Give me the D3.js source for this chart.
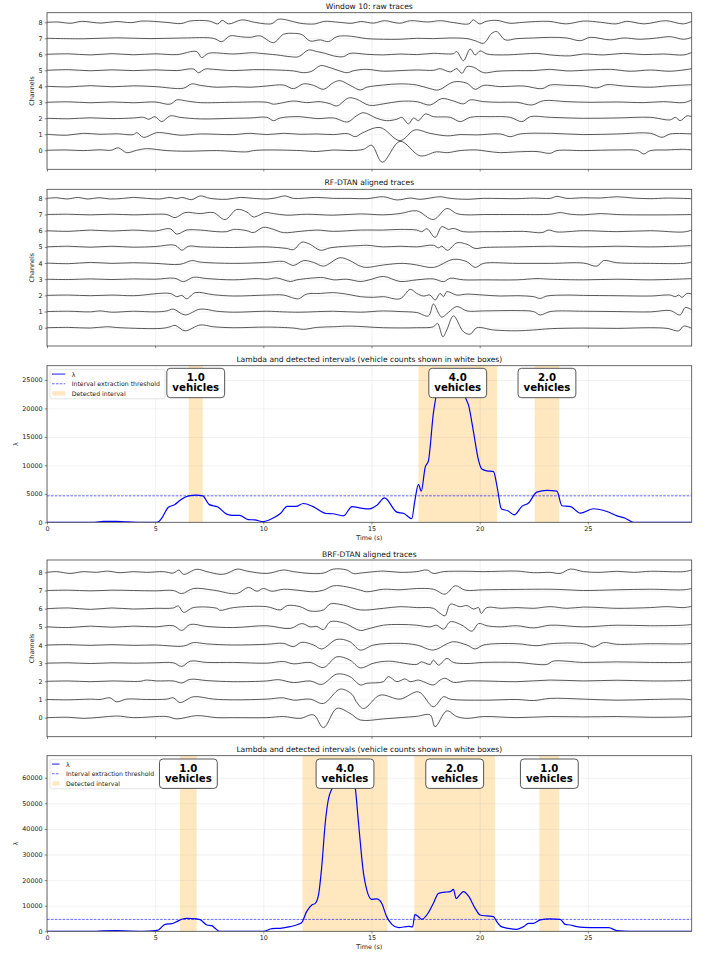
<!DOCTYPE html>
<html>
<head>
<meta charset="utf-8">
<script src="https://cdn.jsdelivr.net/npm/d3@7/dist/d3.min.js"></script>
<style>
  body { margin: 0; background: #fff; }
  svg { font-family: "DejaVu Sans", sans-serif; display: block; }
</style>
</head>
<body>
<div id="chart"></div>
<script>
// ---- data ----
const TIME_MAX = 29.8;
const X_TICKS = [0, 5, 10, 15, 20, 25];
const CHANNELS = [0, 1, 2, 3, 4, 5, 6, 7, 8];

// traces: [time (s), deviation from channel level]
const RAW_TRACES = [
  [[0,0],[0.91,0.02],[1.68,-0.02],[2.45,0.03],[2.95,0],[3.3,0.15],[3.68,-0.15],[4.15,0],[4.6,0.1],[5.54,-0.02],[6.46,-0.06],[7.85,-0.02],[9.24,-0.1],[9.54,-0.02],[10.16,0.02],[11.7,-0.02],[12.47,-0.08],[13.24,0.02],[14.01,-0.02],[14.63,0.06],[15.01,0.31],[15.5,-0.75],[16.32,0.56],[17.25,-0.35],[18.0,-0.1],[18.5,-0.15],[19.1,-0.02],[19.87,0.02],[20.33,-0.06],[20.95,-0.15],[21.72,-0.1],[22.65,-0.08],[23.26,-0.19],[23.57,-0.02],[24.8,-0.02],[26.34,0.02],[27.3,-0.02],[27.58,-0.23],[27.89,-0.02],[28.66,0.02],[29.43,0.06],[29.81,0.02]],
  [[0,0],[0.91,-0.06],[1.68,0.06],[2.45,0],[3.22,0.03],[3.99,-0.02],[4.15,0.1],[4.46,-0.19],[5.07,0.1],[5.54,0.06],[6.15,-0.06],[7.08,0.02],[8.62,-0.02],[9.39,0.06],[10.16,-0.02],[10.93,0.06],[11.7,0],[12.47,0.02],[13.24,-0.02],[13.9,0.04],[14.25,-0.15],[14.6,0.1],[15.4,0.42],[16.32,-0.4],[17.0,0.27],[17.7,0.06],[18.5,-0.1],[19.1,-0.02],[19.87,-0.04],[20.95,0.02],[21.41,-0.15],[21.87,0.02],[23.26,0.06],[24.8,-0.02],[26.34,0.02],[27.89,0.06],[28.43,-0.19],[28.81,0.02],[29.81,0.02]],
  [[0,0],[1.0,-0.03],[2.0,0.03],[3.0,-0.02],[4.0,0.02],[4.46,0.06],[4.7,-0.06],[4.99,0.1],[5.3,-0.21],[5.69,0.15],[6.15,0.06],[7.08,-0.04],[8.62,0],[9.39,0.02],[10.16,0.06],[10.47,-0.15],[10.78,0.02],[11.7,0.1],[12.47,-0.02],[13.24,0.02],[13.9,-0.23],[14.3,0.15],[14.63,0.35],[15.24,0],[15.7,-0.15],[16.17,-0.06],[16.4,0.06],[16.71,-0.35],[16.94,0.02],[17.17,-0.15],[17.48,0.27],[17.86,0.1],[18.64,0.06],[19.1,-0.21],[19.56,0.06],[20.48,0.1],[21.41,0.06],[21.95,-0.21],[22.34,0.1],[23.26,0.06],[24.8,0],[26.34,0.02],[27.89,0.06],[28.81,-0.1],[29.04,0.06],[29.27,-0.15],[29.58,0.15],[29.81,0.1]],
  [[0,0],[1.0,0.03],[2.0,-0.03],[3.0,0.02],[4.0,-0.03],[5.0,0.02],[5.69,-0.12],[6.0,0.15],[6.46,0.08],[7.08,-0.02],[8.62,0],[10.16,0],[10.47,-0.12],[10.78,-0.06],[11.4,0.08],[12.0,-0.02],[12.63,0.04],[13.1,-0.1],[13.4,-0.23],[13.94,0.27],[14.3,0.2],[14.9,-0.19],[15.55,-0.1],[16.32,0.06],[17.09,0.04],[17.71,-0.17],[18.25,0.23],[18.79,0.08],[19.25,-0.1],[19.56,0.15],[20.18,0.04],[20.95,0],[21.72,0],[22.41,-0.17],[22.95,0.1],[24.03,0.04],[25.1,0],[26.34,0.02],[27.58,-0.02],[28.5,0.04],[29.43,-0.02],[29.81,0.15]],
  [[0,0],[1.0,-0.04],[2.0,0.04],[3.0,-0.03],[4.0,0.03],[5.0,-0.02],[6.31,-0.12],[6.69,0.15],[7.08,0.06],[7.85,-0.06],[8.62,-0.02],[9.39,-0.06],[10.16,0.02],[10.93,0.08],[11.39,-0.15],[11.86,0.15],[12.32,0.06],[12.78,-0.19],[13.24,0.23],[13.55,0.35],[14.01,0.06],[14.48,-0.23],[14.78,-0.06],[15.55,0.08],[16.32,0.15],[17.09,0.08],[17.71,-0.15],[18.1,-0.23],[18.79,0.27],[19.41,0.19],[19.79,-0.19],[20.18,0.06],[20.95,-0.02],[22.03,0.02],[22.88,-0.15],[23.26,0.08],[24.03,0.06],[24.8,0.02],[25.42,-0.1],[25.88,0.1],[26.65,0.02],[27.89,-0.06],[28.66,0.02],[29.81,0.1]],
  [[0,0],[1.0,0.04],[2.0,-0.03],[3.0,0.03],[4.0,-0.02],[5.0,0.03],[6.0,-0.02],[6.77,0.08],[7.0,-0.15],[7.31,0.08],[7.69,0.06],[8.62,-0.02],[9.54,0.04],[10.62,0.02],[11.39,-0.04],[11.86,-0.15],[12.24,-0.06],[12.63,0.29],[12.93,0.23],[13.4,0.02],[13.86,-0.15],[14.2,-0.02],[14.78,0.06],[15.55,-0.06],[16.32,-0.02],[17.09,0.02],[17.86,0],[18.17,0.1],[18.64,-0.1],[18.94,0.1],[19.18,-0.19],[19.41,0.23],[19.72,0.19],[20.18,-0.15],[20.8,-0.06],[21.72,-0.02],[22.49,-0.02],[23.26,0.06],[24.03,-0.04],[25.1,0.02],[26.04,0.06],[26.96,-0.06],[27.89,0.02],[28.81,-0.06],[29.81,0.1]],
  [[0,0],[1.0,0.03],[2.0,-0.04],[3.0,0.04],[4.0,-0.03],[5.0,0.03],[6.0,-0.02],[6.92,0.17],[7.15,-0.21],[7.46,0.06],[8.62,0.02],[9.54,0.1],[9.85,0.06],[10.62,-0.04],[11.24,-0.15],[11.63,-0.15],[12.09,0.27],[12.47,0.17],[12.86,0.06],[13.24,-0.1],[13.7,-0.15],[14.01,0.06],[14.78,0],[15.55,-0.04],[16.32,0.02],[17.09,-0.02],[17.86,0.06],[18.55,0.02],[18.79,0.04],[18.94,0.17],[19.25,-0.4],[19.56,0.33],[19.79,-0.04],[20.02,0.21],[20.33,0.02],[21.1,-0.04],[22.03,0.02],[22.65,0.06],[23.26,-0.04],[24.19,-0.1],[24.8,0.02],[25.73,-0.04],[26.65,0.06],[27.58,-0.02],[28.5,0.02],[29.43,-0.04],[29.81,0.12]],
  [[0,0],[1.68,-0.03],[3.22,0.03],[4.76,-0.02],[6.31,0.02],[7.69,0],[8.08,-0.21],[8.46,0.15],[8.93,0.1],[9.39,0.06],[9.85,0.15],[10.47,-0.27],[10.93,0.25],[11.39,0.31],[11.78,0.23],[12.16,-0.17],[12.63,-0.1],[13.01,-0.21],[13.4,0.1],[13.86,0.15],[14.3,0.08],[14.78,-0.02],[15.55,-0.06],[16.32,-0.06],[17.09,0],[17.86,-0.02],[18.64,0.02],[19.41,-0.02],[19.79,-0.15],[20.18,-0.31],[20.56,0.31],[20.79,0.42],[21.18,-0.1],[21.72,-0.02],[22.49,0.02],[23.26,0.06],[24.03,0.02],[24.65,-0.15],[25.11,0.06],[26.04,-0.1],[26.65,0.02],[27.42,-0.06],[28.19,0.02],[28.81,0.1],[29.43,-0.06],[29.81,0.06]],
  [[0,0],[0.5,0.02],[1.1,-0.06],[1.6,0.06],[2.5,-0.05],[3.2,0.05],[3.9,-0.02],[4.4,0.08],[5.5,0],[6.2,-0.08],[6.6,0.08],[7.5,0.08],[7.9,-0.1],[8.1,0.12],[8.4,-0.1],[9.0,0.15],[9.6,0],[10.1,-0.1],[10.4,-0.08],[10.7,0.19],[11.1,0.14],[11.7,-0.06],[12.4,-0.1],[12.8,0.06],[13.5,0],[14.1,-0.06],[14.5,0.05],[15.1,-0.05],[15.6,0.1],[16.3,-0.06],[16.8,0.1],[17.6,0.02],[18.2,0.1],[18.8,-0.02],[19.5,-0.1],[19.7,0.15],[20.0,-0.1],[20.3,0.06],[20.8,0.12],[21.4,-0.06],[22.0,0],[23.2,0.06],[24.0,-0.1],[24.8,0.08],[25.6,0],[26.3,-0.1],[26.8,0.06],[27.6,-0.1],[28.6,0.1],[29.4,-0.1],[29.81,0.06]]
];

const RF_TRACES = [
  [[0,0],[1.0,0.02],[2.0,-0.02],[2.76,0.06],[3.38,0],[5.3,-0.04],[5.69,0.06],[5.92,0.15],[6.38,-0.19],[7.08,0.17],[7.69,0.06],[8.62,0],[10.16,0.04],[11.39,-0.02],[11.86,-0.1],[12.47,0.02],[13.24,0.06],[14.01,0.1],[15.55,0],[17.09,0],[17.86,0.06],[18.05,0.27],[18.3,-0.56],[18.48,-0.14],[18.79,0.73],[19.25,-0.25],[19.56,-0.4],[19.87,0],[20.64,-0.14],[21.72,-0.19],[22.49,-0.14],[23.26,-0.06],[24.8,-0.02],[26.34,-0.04],[27.89,0],[28.66,-0.04],[29.2,-0.19],[29.43,0.1],[29.81,-0.04]],
  [[0,0],[1.0,0.02],[2.0,-0.02],[2.45,0.04],[3.0,-0.04],[4.0,0.02],[5.0,-0.02],[5.54,0.04],[5.84,0.15],[6.38,-0.21],[7.08,0.15],[7.85,0.02],[8.62,-0.04],[10.16,0.02],[10.93,-0.02],[11.7,-0.04],[13.24,0.02],[14.48,-0.04],[15.55,0.04],[16.32,0],[17.09,-0.06],[17.63,-0.27],[17.86,0.47],[18.1,-0.1],[18.25,-0.35],[18.55,-0.06],[18.94,0.31],[19.41,0.04],[20.18,0.04],[21.72,0.06],[22.49,0],[22.8,-0.21],[23.26,0],[24.8,0.02],[26.34,0],[27.89,-0.02],[28.81,0.06],[29.27,-0.21],[29.5,0.25],[29.81,0.1]],
  [[0,0],[1.0,0.02],[2.0,-0.02],[3.0,0.02],[4.0,-0.02],[5.69,0.12],[6.0,-0.08],[6.23,0],[6.46,-0.21],[6.85,0.17],[7.7,0.04],[8.62,-0.04],[10.16,0.02],[10.93,0.02],[11.4,-0.17],[11.63,-0.21],[12.0,0.08],[12.63,0.12],[13.24,0.17],[14.01,0.04],[14.48,-0.08],[15.1,-0.12],[15.55,-0.08],[16.32,-0.21],[16.79,0.37],[17.09,0.12],[17.4,-0.04],[17.7,0.02],[17.94,-0.29],[18.17,0.12],[18.33,-0.08],[18.48,0.23],[18.94,0.02],[19.41,0.08],[20.18,0.02],[20.95,-0.04],[21.72,-0.02],[22.49,-0.08],[22.8,-0.19],[23.1,-0.04],[24.03,0.02],[24.8,0],[26.34,-0.02],[27.89,-0.04],[28.81,0.02],[29.04,-0.08],[29.2,0.02],[29.35,-0.12],[29.58,0.12],[29.81,0.08]],
  [[0,0],[1.0,-0.02],[2.0,0.02],[3.0,-0.02],[4.0,0.02],[5.0,0],[5.9,0.06],[6.31,-0.15],[6.77,0.12],[7.39,0.04],[8.62,-0.04],[9.7,0.04],[10.16,0],[10.62,0.08],[11.24,-0.14],[11.55,-0.04],[12.16,0.06],[12.78,0.1],[13.24,-0.04],[13.86,0],[14.48,-0.14],[14.9,-0.04],[15.55,0.17],[16.32,-0.14],[17.09,-0.04],[17.86,0.02],[18.33,-0.15],[18.64,0.06],[19.25,-0.04],[20.18,-0.04],[21.72,-0.04],[22.65,0.04],[23.26,0],[24.8,-0.04],[26.34,0],[27.89,-0.04],[29.81,0.04]],
  [[0,0],[1.0,-0.04],[2.0,0.04],[3.0,-0.02],[4.0,0.02],[5.0,-0.02],[6.15,-0.08],[6.69,0.15],[7.08,0.06],[8.62,-0.02],[10.16,0.04],[10.93,0.1],[11.39,-0.15],[11.86,0.15],[12.32,0.04],[12.78,-0.19],[13.55,0.33],[14.01,0.14],[14.48,-0.19],[14.78,-0.27],[15.55,-0.12],[16.48,-0.02],[17.09,-0.12],[17.86,-0.27],[18.79,0.23],[19.41,0.08],[19.79,-0.27],[20.18,-0.02],[21.72,-0.02],[23.26,-0.02],[24.8,0],[25.42,-0.19],[25.73,0.15],[26.34,0.02],[27.89,-0.02],[29.43,-0.02],[29.81,0.06]],
  [[0,0],[1.0,0.04],[2.0,-0.02],[3.0,0.04],[4.0,-0.02],[5.0,0.02],[5.92,0.1],[6.23,-0.21],[6.54,0.04],[7.08,0],[8.62,-0.04],[10.16,0],[11.08,-0.1],[11.4,-0.17],[11.78,0.29],[12.16,0.16],[12.63,-0.21],[13.09,-0.06],[13.86,0.04],[14.48,0.08],[14.78,0.1],[15.55,0],[16.32,0.04],[17.09,0],[17.86,0.1],[18.1,-0.06],[18.25,0.04],[18.51,-0.21],[18.95,0.25],[19.41,0.16],[19.79,-0.1],[20.18,-0.04],[21.72,0],[23.26,0.04],[24.8,0],[26.34,0.04],[27.89,0],[29.81,0.08]],
  [[0,0],[1.0,-0.04],[2.0,0.04],[3.0,-0.02],[4.0,0.04],[5.0,-0.02],[5.69,0.12],[6.0,-0.21],[6.46,0.04],[7.08,0.04],[7.85,-0.06],[8.31,-0.06],[8.62,0.08],[9.24,0],[9.54,-0.12],[10.0,0.21],[10.47,0.08],[10.93,-0.12],[11.7,-0.04],[12.47,0.04],[13.24,-0.04],[14.48,0.04],[15.55,0.04],[16.32,0.08],[17.09,0.04],[17.32,-0.06],[17.56,0.12],[17.94,-0.41],[18.25,0.25],[18.55,0.08],[18.79,0.14],[19.25,-0.06],[20.18,-0.06],[21.0,-0.06],[22.03,-0.04],[22.88,-0.12],[23.18,0.04],[23.57,-0.08],[24.8,0],[26.34,-0.06],[27.89,0],[29.43,-0.08],[29.81,0.04]],
  [[0,0],[1.0,0.02],[2.0,-0.02],[3.0,0.02],[4.0,-0.02],[5.0,0.02],[5.54,0],[5.92,-0.19],[6.38,0.12],[7.08,0.06],[7.69,0.12],[8.23,-0.31],[8.77,0.31],[9.23,0.16],[9.54,-0.15],[9.78,-0.06],[10.08,0.12],[10.47,0.06],[11.08,-0.04],[12.0,0.02],[13.24,-0.04],[14.48,0.04],[15.55,-0.02],[16.32,0.06],[17.09,0.23],[17.86,-0.31],[18.48,0.37],[18.94,0.06],[19.41,-0.02],[20.18,0],[21.72,0],[23.26,0.02],[23.72,0.12],[24.19,0.02],[24.8,-0.02],[25.57,0.06],[26.34,0],[27.11,-0.02],[28.66,-0.02],[29.81,0]],
  [[0,0],[0.45,0.04],[0.91,-0.04],[1.45,0.06],[1.84,-0.04],[2.45,0.04],[2.9,-0.04],[3.53,0],[4.0,0.06],[4.6,0],[5.2,-0.04],[5.69,0.06],[6.0,-0.02],[6.23,0.06],[6.69,-0.08],[7.08,0.15],[7.54,0],[8.31,-0.06],[8.93,0.06],[9.54,0],[10.16,-0.04],[10.54,0.02],[11.0,0.15],[11.39,0],[12.47,0.06],[13.24,0],[14.01,0],[14.78,-0.02],[15.55,0.1],[16.17,-0.1],[16.79,0.02],[17.25,-0.06],[18.17,0.1],[18.64,0],[19.41,-0.06],[20.18,0],[21.72,-0.02],[22.49,0.02],[23.26,0],[23.57,0.12],[24.03,0],[24.8,0.04],[25.57,0.02],[26.34,0.1],[27.11,0.02],[27.89,-0.02],[28.66,0.02],[29.81,-0.02]]
];

const BRF_TRACES = [
  [[0,0],[1.0,0.02],[1.68,-0.04],[2.45,0.02],[3.22,0.09],[3.99,0],[5.54,0.06],[6.0,-0.07],[6.92,0.11],[7.85,0],[8.62,0],[10.16,0],[10.93,0.06],[11.7,-0.04],[12.32,0.15],[12.78,-0.55],[13.4,0.51],[14.0,0.24],[14.48,-0.13],[15.55,-0.07],[16.32,0],[17.09,0.07],[17.71,0.15],[17.94,-0.5],[18.48,0.37],[18.94,0.06],[19.41,-0.04],[20.18,0.06],[21.72,0],[23.26,0.06],[24.8,0.04],[26.34,0.06],[27.89,0.02],[29.43,0.04],[29.81,0.07]],
  [[0,0],[1.0,-0.02],[2.0,0.02],[2.45,0],[2.91,0.09],[3.22,-0.13],[3.68,0.02],[4.6,0],[5.54,0.02],[5.84,0.09],[6.15,-0.17],[6.77,0.15],[7.7,0.02],[8.62,-0.02],[10.16,0.02],[10.93,0.09],[11.39,-0.04],[12.16,0.02],[12.78,-0.22],[13.55,0.57],[14.1,0.28],[14.3,-0.13],[14.63,-0.5],[15.4,0.24],[16.32,0.02],[17.17,0.42],[17.86,-0.4],[18.33,0.15],[18.64,0.02],[20.18,-0.04],[21.72,0],[22.49,-0.06],[23.26,0.06],[24.8,0.02],[26.34,-0.04],[27.89,0],[29.43,0.02],[29.81,-0.02]],
  [[0,0],[1.0,0.02],[2.0,-0.02],[3.0,0.02],[4.3,0],[4.6,0.07],[5.07,0.02],[5.84,0.02],[6.23,-0.09],[6.62,0.11],[7.39,0.04],[8.62,-0.02],[10.16,0.02],[10.7,0.09],[11.4,-0.07],[12.16,0.02],[12.7,-0.17],[13.4,0.4],[14.0,0.26],[14.48,-0.2],[14.78,-0.11],[15.55,-0.02],[15.78,0.26],[16.17,-0.02],[16.55,0.13],[16.79,-0.02],[17.17,0.07],[17.4,-0.02],[17.86,-0.2],[18.17,0.07],[18.4,0.17],[18.79,-0.06],[19.41,0.02],[20.18,0.02],[21.72,-0.02],[23.26,0.07],[24.8,0.02],[26.34,0.06],[27.89,0.02],[29.43,0.04],[29.81,0.07]],
  [[0,0],[1.0,0.02],[2.0,-0.02],[3.0,0.02],[4.0,0],[5.0,0.02],[5.84,0.02],[6.23,-0.18],[6.62,0.11],[7.39,0.04],[8.62,0.04],[10.16,0],[10.93,0.09],[11.4,-0.04],[12.16,0.04],[12.78,-0.24],[13.4,0.35],[14.0,0.17],[14.48,-0.26],[15.1,0],[15.8,0.11],[17.09,-0.07],[17.3,0.07],[17.71,-0.07],[17.86,0.17],[18.1,-0.11],[18.48,0.26],[18.79,0.04],[19.41,-0.02],[20.18,0.04],[21.72,0.04],[23.1,-0.07],[23.4,0.11],[24.8,0.04],[26.34,0.07],[27.89,0.04],[29.43,0.04],[29.81,0.07]],
  [[0,0],[1.0,0.02],[2.0,-0.02],[3.0,0.02],[4.0,-0.02],[5.0,0],[6.31,-0.06],[6.77,0.13],[7.39,0.06],[8.62,0],[10.16,0.04],[10.93,0.09],[11.39,-0.09],[11.78,0.15],[12.32,0],[12.7,-0.22],[13.4,0.31],[14.0,0.18],[14.48,-0.28],[15.1,0],[16.32,0.09],[17.09,0],[17.86,-0.28],[18.48,0.06],[18.79,0.18],[19.41,0],[19.79,-0.22],[20.18,0],[21.72,0.07],[22.65,-0.04],[23.26,0.07],[24.8,0.07],[25.26,-0.11],[25.73,0.13],[26.34,0.04],[27.89,0.07],[29.43,0.06],[29.81,0.09]],
  [[0,0],[1.0,-0.04],[2.0,0.04],[3.0,-0.02],[4.0,0.04],[5.0,0],[5.84,0.06],[6.23,-0.2],[6.62,0.13],[7.39,0.02],[8.62,-0.04],[10.16,0.06],[11.24,-0.09],[11.78,0.18],[12.16,0],[12.47,0.02],[12.78,-0.15],[13.09,0.28],[13.7,0.22],[14.48,-0.2],[14.78,-0.13],[15.55,0.09],[16.32,0.13],[17.09,0.09],[17.71,0],[18.0,0.09],[18.33,-0.13],[18.64,0.28],[19.18,0.09],[19.64,-0.24],[19.95,0.18],[20.33,0.06],[20.95,0],[21.72,0.06],[22.49,-0.06],[23.26,0.09],[24.8,0],[26.34,0.09],[27.89,0.06],[29.43,0.09],[29.81,0.13]],
  [[0,0],[1.0,0.04],[2.0,-0.04],[3.0,0.04],[4.0,-0.02],[5.0,0.02],[5.84,0.04],[6.07,0.15],[6.31,-0.2],[6.77,0.06],[7.85,0.02],[8.0,-0.09],[8.62,0.06],[10.16,0.11],[10.78,-0.07],[11.1,0.17],[11.7,0.11],[12.16,-0.13],[12.78,-0.07],[13.09,0.26],[13.7,0.2],[14.48,-0.07],[15.55,0.02],[16.32,0.11],[17.09,0.06],[17.86,0.02],[18.17,-0.26],[18.4,-0.39],[18.64,0.24],[19.1,0.11],[19.41,0.17],[19.72,-0.02],[19.95,0.06],[20.07,-0.26],[20.33,0.06],[21.0,0.02],[21.72,0.06],[22.49,0.02],[23.26,0.11],[24.03,0.02],[24.8,0.09],[25.57,0.06],[26.34,0.02],[27.89,0.06],[28.66,0.11],[29.43,0.06],[29.81,0.13]],
  [[0,0],[1.0,0.02],[2.0,-0.02],[3.0,0.02],[4.0,0],[5.0,-0.02],[5.84,0],[6.23,-0.17],[6.77,0.11],[7.69,0.02],[8.77,-0.17],[9.31,0.17],[9.7,-0.04],[10.0,0.11],[10.39,-0.04],[10.93,0.07],[11.7,0],[12.32,-0.07],[12.78,0.02],[13.24,0.26],[13.86,0.2],[14.48,0.02],[14.78,-0.07],[15.55,0.07],[16.32,0.04],[17.09,0.11],[17.86,0.07],[18.4,-0.2],[18.87,0.26],[19.33,0.02],[20.18,0.04],[21.72,0.06],[23.26,0.07],[24.03,0.04],[24.8,0],[26.34,0.04],[27.89,0.07],[29.43,0.04],[29.81,0.11]],
  [[0,0],[0.45,0.04],[1.06,-0.06],[1.68,0.04],[2.3,0],[2.76,0.07],[3.38,-0.02],[3.99,0.04],[4.6,0],[5.38,0.04],[5.84,-0.04],[6.1,0.13],[6.31,-0.11],[6.92,0.17],[7.39,0.04],[8.0,-0.11],[8.31,-0.06],[8.79,0.18],[9.24,0.07],[10.16,-0.06],[10.93,0.13],[11.39,0.04],[12.16,-0.06],[12.78,-0.04],[13.24,0.18],[13.86,0.13],[14.17,-0.07],[14.48,-0.04],[15.55,0.07],[16.32,0],[17.09,0.04],[17.56,0.13],[17.86,-0.06],[18.33,0.04],[19.41,0.06],[20.18,0.04],[21.72,0.07],[22.49,-0.02],[23.26,0],[23.72,-0.06],[24.19,0.18],[24.8,0.04],[25.57,0],[26.34,0.06],[27.11,0],[27.89,0.06],[29.43,0.04],[29.81,0.13]]
];

// lambda: [time (s), value]
const THRESHOLD = 4650;
const RF_LAMBDA = [[0,0],[2.2,0],[2.6,150],[3.2,180],[3.6,100],[4.3,0],[5.0,0],[5.15,100],[5.3,700],[5.6,2600],[5.9,3100],[6.2,4000],[6.55,4640],[6.9,4760],[7.2,4640],[7.5,3100],[7.9,2700],[8.3,1430],[8.6,1200],[8.9,1200],[9.3,480],[9.6,420],[10.0,120],[10.5,830],[10.8,1600],[11.1,2800],[11.5,2800],[11.85,3300],[12.3,2750],[12.9,1550],[13.2,1500],[13.7,1130],[14.1,2740],[14.5,2500],[14.9,2350],[15.25,2975],[15.6,4280],[16.17,1785],[16.5,1550],[16.86,650],[17.0,3700],[17.17,6660],[17.3,5470],[17.48,9640],[17.63,10800],[17.86,19160],[18.1,24000],[18.4,26000],[18.9,26500],[19.2,24500],[19.33,22130],[19.5,20350],[19.7,16180],[19.95,10830],[20.1,9340],[20.33,9040],[20.64,8900],[20.8,6370],[21.0,2380],[21.3,2020],[21.6,1310],[21.95,2800],[22.26,3390],[22.64,5300],[23.1,5590],[23.57,5470],[23.8,2900],[24.2,2750],[24.65,1600],[25.26,2380],[25.88,1900],[26.35,1130],[26.73,710],[27.1,0],[29.8,0]];
const RF_INTERVALS = [[6.55, 7.2], [17.17, 20.8], [22.54, 23.68]];
const RF_COUNTS = [1.0, 4.0, 2.0];
const RF_Y_TICKS = [0, 5000, 10000, 15000, 20000, 25000];

const BRF_LAMBDA = [[0,0],[2.2,0],[2.6,200],[3.2,260],[3.8,100],[4.46,0],[5.0,260],[5.15,520],[5.46,2730],[5.77,3000],[6.0,3780],[6.23,4690],[6.46,5080],[6.92,4820],[7.08,4560],[7.39,2470],[7.62,2210],[7.77,1170],[7.97,0],[10.0,0],[10.4,1040],[10.78,1170],[11.24,1820],[11.62,2730],[11.78,3500],[12.0,7680],[12.24,10300],[12.4,10900],[12.55,14200],[12.7,25260],[12.86,42190],[13.0,51300],[13.17,55700],[13.5,61000],[13.9,62500],[14.1,60000],[14.24,56500],[14.4,42190],[14.63,22650],[14.78,16150],[15.0,12500],[15.24,12630],[15.47,10940],[15.7,5730],[15.94,2730],[16.25,1430],[16.71,1950],[16.9,1690],[17.0,6510],[17.17,5730],[17.33,4690],[17.63,7290],[17.86,10940],[18.1,14840],[18.48,15360],[18.64,15500],[18.79,16400],[18.91,12760],[19.07,14190],[19.25,15490],[19.48,13800],[19.79,8980],[20.02,6380],[20.33,5990],[20.64,5730],[20.79,3780],[21.0,1820],[21.33,1170],[21.72,780],[22.03,1820],[22.26,3120],[22.49,3120],[22.8,4430],[23.26,4820],[23.72,4690],[23.95,2730],[24.19,2470],[24.5,1820],[24.8,1560],[25.42,1430],[25.96,1430],[26.34,260],[26.96,0],[29.8,0]];
const BRF_INTERVALS = [[6.15, 6.92], [11.81, 15.74], [16.98, 20.71], [22.76, 23.68]];
const BRF_COUNTS = [1.0, 4.0, 2.0, 1.0];
const BRF_Y_TICKS = [0, 10000, 20000, 30000, 40000, 50000, 60000];

const LEGEND_LABELS = ['λ', 'Interval extraction threshold', 'Detected interval'];

// ---- layout ----
const W = 710, H = 956;
const LEFT = 47, RIGHT = 691.7;
const FONT = '"DejaVu Sans", sans-serif';
const INK = '#222';

const panels = [
  { kind: 'trace', top: 12.7, bottom: 169.3, yDomain: [-1.19, 8.6], titleY: 6,
    title: 'Window 10: raw traces', traces: RAW_TRACES },
  { kind: 'trace', top: 189.3, bottom: 346, yDomain: [-1.13, 8.56], titleY: 182.7,
    title: 'RF-DTAN aligned traces', traces: RF_TRACES },
  { kind: 'lambda', top: 365.7, bottom: 522.3, yDomain: [0, 27500], titleY: 359,
    title: 'Lambda and detected intervals (vehicle counts shown in white boxes)',
    lambda: RF_LAMBDA, intervals: RF_INTERVALS, counts: RF_COUNTS, yTicks: RF_Y_TICKS,
    boxGap: 2.6, legendTextDx: 21.7, legendW: 115 },
  { kind: 'trace', top: 560, bottom: 736.7, yDomain: [-1.05, 8.68], titleY: 554.3,
    title: 'BRF-DTAN aligned traces', traces: BRF_TRACES },
  { kind: 'lambda', top: 755.7, bottom: 931.3, yDomain: [0, 68600], titleY: 749,
    title: 'Lambda and detected intervals (vehicle counts shown in white boxes)',
    lambda: BRF_LAMBDA, intervals: BRF_INTERVALS, counts: BRF_COUNTS, yTicks: BRF_Y_TICKS,
    boxGap: 3.3, legendTextDx: 16, legendW: 110 }
];

const svg = d3.select('#chart').append('svg')
  .attr('width', W)
  .attr('height', H)
  .attr('font-family', FONT);

const x = d3.scaleLinear().domain([0, TIME_MAX]).range([LEFT, RIGHT]);

function styleAxis(sel) {
  sel.attr('font-family', FONT).attr('font-size', 6.4);
  sel.select('.domain').remove();
  sel.selectAll('line').attr('stroke', '#333').attr('stroke-width', 0.6);
  sel.selectAll('text').attr('fill', INK);
}

function styleGrid(sel) {
  sel.select('.domain').remove();
  sel.selectAll('text').remove();
  sel.selectAll('line').attr('stroke', '#b0b0b0').attr('stroke-opacity', 0.3).attr('stroke-width', 0.6);
}

panels.forEach((p, i) => {
  const y = d3.scaleLinear().domain(p.yDomain).range([p.bottom, p.top]);
  const h = p.bottom - p.top;
  const g = svg.append('g').attr('class', 'panel');
  const yTicks = p.kind === 'trace' ? CHANNELS : p.yTicks;

  g.append('clipPath').attr('id', `clip-${i}`)
    .append('rect')
    .attr('x', LEFT).attr('y', p.top)
    .attr('width', RIGHT - LEFT).attr('height', h);

  const plot = g.append('g').attr('clip-path', `url(#clip-${i})`);

  // detected intervals go under the grid
  if (p.kind === 'lambda') {
    plot.selectAll('rect.span').data(p.intervals).join('rect')
      .attr('class', 'span')
      .attr('x', d => x(d[0]))
      .attr('width', d => x(d[1]) - x(d[0]))
      .attr('y', p.top)
      .attr('height', h)
      .attr('fill', '#ffa500')
      .attr('fill-opacity', 0.25);
  }

  // grid
  plot.append('g')
    .attr('transform', `translate(0,${p.bottom})`)
    .call(d3.axisBottom(x).tickValues(X_TICKS).tickSize(-h))
    .call(styleGrid);
  plot.append('g')
    .attr('transform', `translate(${LEFT},0)`)
    .call(d3.axisLeft(y).tickValues(yTicks).tickSize(-(RIGHT - LEFT)))
    .call(styleGrid);

  if (p.kind === 'trace') {
    const line = d3.line()
      .curve(d3.curveCatmullRom.alpha(0.5))
      .x(d => x(d[0]));
    plot.selectAll('path.trace').data(p.traces).join('path')
      .attr('class', 'trace')
      .attr('fill', 'none')
      .attr('stroke', '#222')
      .attr('stroke-width', 0.75)
      .attr('d', (pts, ch) => line.y(d => y(ch + d[1]))(pts));
  } else {
    plot.append('line')
      .attr('x1', LEFT).attr('x2', RIGHT)
      .attr('y1', y(THRESHOLD)).attr('y2', y(THRESHOLD))
      .attr('stroke', 'blue')
      .attr('stroke-opacity', 0.75)
      .attr('stroke-width', 0.8)
      .attr('stroke-dasharray', '2.6,1.3');
    const lamLine = d3.line()
      .curve(d3.curveMonotoneX)
      .x(d => x(d[0]))
      .y(d => y(d[1]));
    plot.append('path')
      .datum(p.lambda)
      .attr('fill', 'none')
      .attr('stroke', 'blue')
      .attr('stroke-width', 1.2)
      .attr('d', lamLine);
  }

  // ticks and labels
  g.append('g')
    .attr('transform', `translate(0,${p.bottom})`)
    .call(d3.axisBottom(x).tickValues(X_TICKS).tickSize(2.2).tickPadding(2.2)
      .tickFormat(p.kind === 'lambda' ? d3.format('d') : ''))
    .call(styleAxis);
  g.append('g')
    .attr('transform', `translate(${LEFT},0)`)
    .call(d3.axisLeft(y).tickValues(yTicks).tickSize(2.2).tickPadding(2.2).tickFormat(d3.format('d')))
    .call(styleAxis);

  // frame
  g.append('rect')
    .attr('x', LEFT).attr('y', p.top)
    .attr('width', RIGHT - LEFT).attr('height', h)
    .attr('fill', 'none')
    .attr('stroke', '#444')
    .attr('stroke-width', 0.8);

  // title
  g.append('text')
    .attr('x', (LEFT + RIGHT) / 2)
    .attr('y', p.titleY)
    .attr('text-anchor', 'middle')
    .attr('dominant-baseline', 'central')
    .attr('font-size', 7.6)
    .attr('fill', '#111')
    .text(p.title);

  // y label
  const ylx = p.kind === 'trace' ? 32.3 : 16.4;
  g.append('text')
    .attr('transform', `translate(${ylx},${(p.top + p.bottom) / 2}) rotate(-90)`)
    .attr('text-anchor', 'middle')
    .attr('dominant-baseline', 'central')
    .attr('font-size', 6.4)
    .attr('fill', INK)
    .text(p.kind === 'trace' ? 'Channels' : 'λ');

  if (p.kind !== 'lambda') return;

  // x label
  g.append('text')
    .attr('x', (LEFT + RIGHT) / 2)
    .attr('y', p.bottom + 15.8)
    .attr('text-anchor', 'middle')
    .attr('dominant-baseline', 'central')
    .attr('font-size', 6.4)
    .attr('fill', INK)
    .text('Time (s)');

  // legend
  const lg = g.append('g');
  const lx = 50, ly = p.top + 3.6;
  lg.append('rect')
    .attr('x', lx).attr('y', ly)
    .attr('width', p.legendW).attr('height', 29.5)
    .attr('rx', 2)
    .attr('fill', '#fff').attr('fill-opacity', 0.85)
    .attr('stroke', '#d0d0d0').attr('stroke-width', 0.6);
  const rowY = k => ly + 4.8 + k * 9.65;
  const hx1 = lx + 2, hx2 = lx + p.legendTextDx - 6.5;
  lg.append('line')
    .attr('x1', hx1).attr('x2', hx2)
    .attr('y1', rowY(0)).attr('y2', rowY(0))
    .attr('stroke', 'blue').attr('stroke-opacity', 0.6).attr('stroke-width', 1.5);
  lg.append('line')
    .attr('x1', hx1).attr('x2', hx2)
    .attr('y1', rowY(1)).attr('y2', rowY(1))
    .attr('stroke', 'blue').attr('stroke-opacity', 0.75).attr('stroke-width', 0.8)
    .attr('stroke-dasharray', '2.6,1.3');
  lg.append('rect')
    .attr('x', hx1 + 0.5).attr('y', rowY(2) - 2.2)
    .attr('width', hx2 - hx1 - 0.5).attr('height', 4.4)
    .attr('fill', '#ffa500').attr('fill-opacity', 0.25);
  lg.selectAll('text').data(LEGEND_LABELS).join('text')
    .attr('x', lx + p.legendTextDx)
    .attr('y', (d, k) => rowY(k))
    .attr('dominant-baseline', 'central')
    .attr('font-size', 6.2)
    .attr('fill', INK)
    .text(d => d);

  // vehicle count boxes
  p.intervals.forEach((iv, k) => {
    const cx = x((iv[0] + iv[1]) / 2);
    const bg = g.append('g');
    const box = bg.append('rect');
    const t = bg.append('text')
      .attr('text-anchor', 'middle')
      .attr('font-size', 10.2)
      .attr('font-weight', 'bold')
      .attr('fill', '#000');
    t.append('tspan').attr('x', cx).attr('y', p.top + p.boxGap + 9.2)
      .attr('dominant-baseline', 'central').text(p.counts[k].toFixed(1));
    t.append('tspan').attr('x', cx).attr('y', p.top + p.boxGap + 19.4)
      .attr('dominant-baseline', 'central').text('vehicles');
    const bw = t.node().getBBox().width + 11;
    box.attr('x', cx - bw / 2).attr('y', p.top + p.boxGap)
      .attr('width', bw).attr('height', 29.4)
      .attr('rx', 3.5)
      .attr('fill', '#fff')
      .attr('stroke', '#444')
      .attr('stroke-width', 0.9);
  });
});
</script>
</body>
</html>
